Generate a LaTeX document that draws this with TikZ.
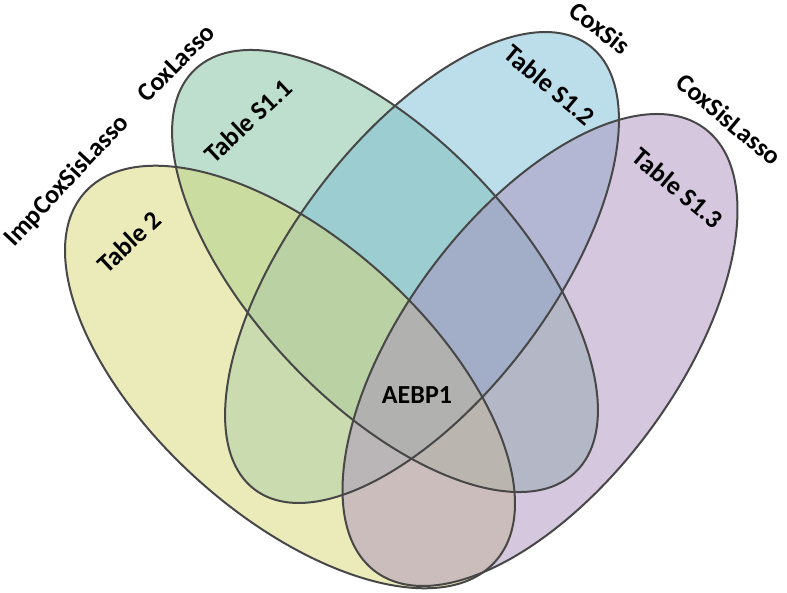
\documentclass[tikz,border=0pt]{standalone}
\usepackage{fontspec}
\setmainfont{Carlito}
\begin{document}
\begin{tikzpicture}[x=1pt,y=1pt,
  lbl/.style={inner sep=0pt, font=\fontsize{26}{30}\selectfont\bfseries, text=black},
  setfill/.style={fill opacity=0.5, draw=none},
  setline/.style={draw=black!72, line width=2pt}]
\useasboundingbox (0,0) rectangle (787,592);
\definecolor{cyel}{RGB}{216,216,118}
\definecolor{cgrn}{RGB}{126,192,156}
\definecolor{cblu}{RGB}{122,190,214}
\definecolor{cpur}{RGB}{170,144,190}
% centres
\coordinate (cY) at (290,215);
\coordinate (cG) at (385,321);
\coordinate (cB) at (422,324.5);
\coordinate (cP) at (540,242);
% fills (stacking order: green, blue, yellow, purple)
\fill[setfill, fill=cgrn] (cG) ellipse [x radius=277pt, y radius=132pt, rotate=-46.7];
\fill[setfill, fill=cblu] (cB) ellipse [x radius=278pt, y radius=130pt, rotate=53];
\fill[setfill, fill=cyel] (cY) ellipse [x radius=276pt, y radius=138pt, rotate=-42];
\fill[setfill, fill=cpur] (cP) ellipse [x radius=276pt, y radius=136pt, rotate=53.4];
% outlines
\draw[setline] (cY) ellipse [x radius=276pt, y radius=138pt, rotate=-42];
\draw[setline] (cG) ellipse [x radius=277pt, y radius=132pt, rotate=-46.7];
\draw[setline] (cB) ellipse [x radius=278pt, y radius=130pt, rotate=53];
\draw[setline] (cP) ellipse [x radius=276pt, y radius=136pt, rotate=53.4];
% labels
\node[lbl, rotate=47] (nImp) at (67,411) {ImpCoxSisLasso};
\node[lbl, rotate=45] (nCL) at (176,529) {CoxLasso};
\node[lbl, rotate=43] (nT11) at (248,471) {Table S1.1};
\node[lbl, rotate=43] (nT2) at (129,350) {Table 2};
\node[lbl, rotate=-38] (nCS) at (600,564) {CoxSis};
\node[lbl, rotate=-40] (nT12) at (550,507) {Table S1.2};
\node[lbl, rotate=-40] (nCSL) at (729,473) {CoxSisLasso};
\node[lbl, rotate=-40] (nT13) at (678,404) {Table S1.3};
\node[lbl] (nAE) at (417,197) {AEBP1};
\end{tikzpicture}
\end{document}
